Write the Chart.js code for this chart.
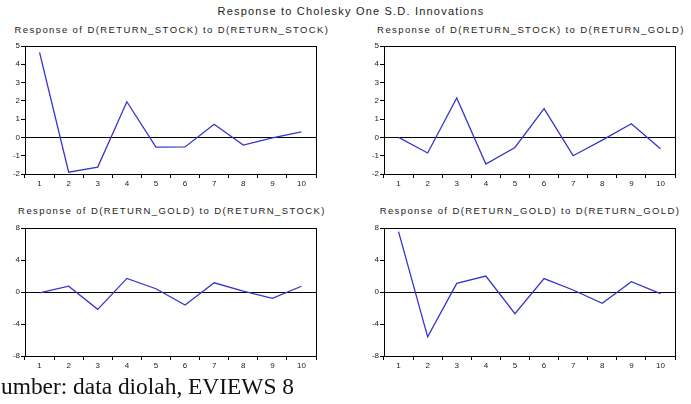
<!DOCTYPE html>
<html>
<head>
<meta charset="utf-8">
<script src="https://cdn.jsdelivr.net/npm/chart.js@4/dist/chart.umd.min.js"></script>
<style>
  html, body { margin: 0; padding: 0; background: #fff; }
  #wrap { position: relative; width: 691px; height: 404px; overflow: hidden; background: #fff; }
  canvas { position: absolute; }
  .t { position: absolute; font-family: "Liberation Sans", Arial, sans-serif; color: #222; white-space: nowrap; transform: translateX(-50%); }
  .main { font-size: 11px; letter-spacing: 1.2px; }
  .sub { font-size: 9.5px; letter-spacing: 1.4px; }
  .cap { position: absolute; font-family: "Liberation Serif", "Times New Roman", serif; font-size: 23.4px; color: #111; white-space: nowrap; }
</style>
</head>
<body>
<div id="wrap">
  <div class="t main" style="left:351px; top:5px;">Response to Cholesky One S.D. Innovations</div>
  <div class="t sub" style="left:172px; top:24px;">Response of D(RETURN_STOCK) to D(RETURN_STOCK)</div>
  <div class="t sub" style="left:531px; top:24px;">Response of D(RETURN_STOCK) to D(RETURN_GOLD)</div>
  <div class="t sub" style="left:172px; top:205px;">Response of D(RETURN_GOLD) to D(RETURN_STOCK)</div>
  <div class="t sub" style="left:530px; top:205px;">Response of D(RETURN_GOLD) to D(RETURN_GOLD)</div>
  <canvas id="c1" width="340" height="160" style="left:0px; top:36px; width:340px; height:160px;"></canvas>
  <canvas id="c2" width="346" height="160" style="left:345px; top:36px; width:346px; height:160px;"></canvas>
  <canvas id="c3" width="340" height="160" style="left:0px; top:218px; width:340px; height:160px;"></canvas>
  <canvas id="c4" width="346" height="160" style="left:345px; top:218px; width:346px; height:160px;"></canvas>
  <div class="cap" style="left:-12px; top:373px;">Sumber: data diolah, EVIEWS 8</div>
</div>
<script>
const periods = ['1','2','3','4','5','6','7','8','9','10'];
const stockToStock = [4.65, -1.9, -1.62, 1.95, -0.53, -0.52, 0.72, -0.42, -0.03, 0.3];
const stockToGold  = [0.0, -0.85, 2.16, -1.46, -0.55, 1.57, -1.0, -0.15, 0.75, -0.62];
const goldToStock  = [-0.12, 0.72, -2.17, 1.7, 0.41, -1.62, 1.15, 0.1, -0.8, 0.72];
const goldToGold   = [7.55, -5.6, 1.08, 2.0, -2.7, 1.67, 0.25, -1.42, 1.29, -0.2];
const topRange = { min: -2, max: 5, step: 1 };
const bottomRange = { min: -8, max: 8, step: 4 };

const frame = {
  id: 'frame',
  afterDraw(chart) {
    const { ctx, chartArea: a } = chart;
    ctx.save();
    ctx.strokeStyle = '#000';
    ctx.lineWidth = 1;
    ctx.strokeRect(Math.round(a.left) + 0.5, Math.round(a.top) + 0.5, Math.round(a.right - a.left), Math.round(a.bottom - a.top));
    ctx.restore();
  }
};

function makeChart(id, data, range, yWidth, padRight) {
  new Chart(document.getElementById(id), {
    type: 'line',
    data: {
      labels: periods,
      datasets: [{
        data: data,
        borderColor: '#3535cc',
        borderWidth: 1.3,
        pointRadius: 0,
        tension: 0,
        fill: false
      }]
    },
    options: {
      responsive: false,
      animation: false,
      devicePixelRatio: 1,
      layout: { padding: { top: 10, right: padRight, left: 0, bottom: 0 } },
      plugins: { legend: { display: false }, tooltip: { enabled: false } },
      scales: {
        x: {
          type: 'category',
          offset: true,
          afterFit(s) { s.height = 22; },
          border: { display: true, color: '#000', width: 1 },
          grid: { offset: true, drawOnChartArea: false, drawTicks: true, tickLength: 4, tickColor: '#000', tickWidth: 1 },
          ticks: { color: '#222', font: { family: 'Liberation Sans', size: 8 }, padding: 1, maxRotation: 0, autoSkip: false }
        },
        y: {
          min: range.min,
          max: range.max,
          afterFit(s) { s.width = yWidth; },
          border: { display: true, color: '#000', width: 1 },
          grid: {
            drawTicks: true,
            tickLength: 4,
            tickColor: '#000',
            color: (c) => (c.tick && c.tick.value === 0) ? '#000' : 'rgba(0,0,0,0)',
            lineWidth: 1
          },
          ticks: { stepSize: range.step, color: '#222', font: { family: 'Liberation Sans', size: 8 }, padding: 1 }
        }
      }
    },
    plugins: [frame]
  });
}

makeChart('c1', stockToStock, topRange, 25, 24);
makeChart('c2', stockToGold, topRange, 39, 16);
makeChart('c3', goldToStock, bottomRange, 25, 24);
makeChart('c4', goldToGold, bottomRange, 39, 16);
</script>
</body>
</html>
